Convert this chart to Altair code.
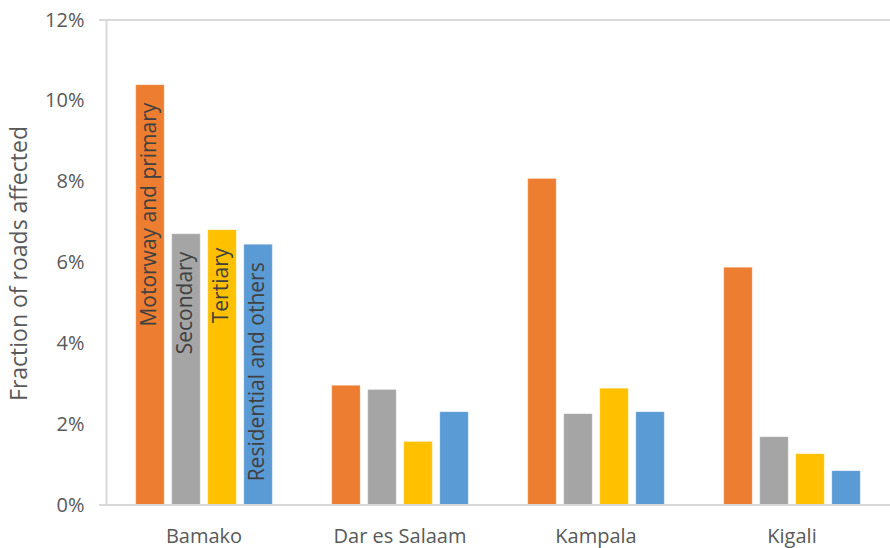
import altair as alt
import pandas as pd

# Share of road network affected, by city and road class
cities = ["Bamako", "Dar es Salaam", "Kampala", "Kigali"]
road_classes = ["Motorway and primary", "Secondary", "Tertiary", "Residential and others"]
motorway_primary = [0.104, 0.0296, 0.0808, 0.0588]
secondary = [0.0671, 0.0286, 0.0226, 0.0169]
tertiary = [0.0681, 0.0157, 0.0289, 0.0127]
residential_others = [0.0645, 0.0231, 0.0231, 0.0085]
colors = ["#ED7D31", "#A5A5A5", "#FFC000", "#5B9BD5"]
y_ticks = [0, 0.02, 0.04, 0.06, 0.08, 0.10, 0.12]

series = [motorway_primary, secondary, tertiary, residential_others]
rows = []
for cls, vals in zip(road_classes, series):
    for city, v in zip(cities, vals):
        rows.append({"city": city, "road_class": cls, "share": v})
df = pd.DataFrame(rows)

W, H = 784, 485
FONT = "Open Sans"
FS = 20
GRAY_TEXT = "#595959"
LINE = "#D9D9D9"

x_enc = alt.X(
    "city:N",
    sort=cities,
    scale=alt.Scale(paddingInner=0, paddingOuter=0),
    axis=alt.Axis(
        title=None, labelAngle=0, ticks=False, domain=False,
        labelFont=FONT, labelFontSize=FS, labelColor=GRAY_TEXT, labelPadding=21,
    ),
)
xoff_enc = alt.XOffset(
    "road_class:N",
    sort=road_classes,
    scale=alt.Scale(paddingInner=0.21, paddingOuter=0.825),
)
y_scale = alt.Scale(domain=[0, 0.12], nice=False)
y_enc = alt.Y(
    "share:Q",
    scale=y_scale,
    axis=alt.Axis(
        title="Fraction of roads affected", format=".0%", values=y_ticks,
        grid=False, ticks=False, domain=True, domainColor=LINE, domainWidth=2,
        labelFont=FONT, labelFontSize=FS, labelColor=GRAY_TEXT, labelPadding=22,
        titleFont=FONT, titleFontSize=23, titleColor=GRAY_TEXT, titleFontWeight="normal",
        titleAngle=-90, titleX=-87, titleY=243, titleBaseline="middle", titleAlign="center",
    ),
)

bars = alt.Chart(df).mark_bar(stroke="#FFFFFF", strokeOpacity=0.35, strokeWidth=0.8).encode(
    x=x_enc,
    xOffset=xoff_enc,
    y=y_enc,
    color=alt.Color(
        "road_class:N", sort=road_classes,
        scale=alt.Scale(domain=road_classes, range=colors), legend=None,
    ),
)

# Series names written inside the first group of bars
labels = alt.Chart(df[df["city"] == cities[0]]).mark_text(
    angle=270, align="right", baseline="middle", dx=-18,
    font=FONT, fontSize=21, color="#404040",
).encode(
    x=alt.X("city:N", sort=cities),
    xOffset=alt.XOffset("road_class:N", sort=road_classes),
    y=alt.Y("share:Q", scale=y_scale),
    text="road_class:N",
)

top_line = alt.Chart(pd.DataFrame({"v": [0.12, 0.0]})).mark_rule(
    color=LINE, strokeWidth=2
).encode(
    y=alt.Y("v:Q", scale=y_scale),
    x=alt.value(-7),
    x2=alt.value(W),
)

chart = (
    alt.layer(bars, labels, top_line)
    .properties(width=W, height=H, padding={"left": 106, "top": 20, "right": 0, "bottom": 43},
                autosize=alt.AutoSizeParams(type="none"))
    .configure_view(stroke=None)
    .configure(background="#FFFFFF")
)

chart.save("out.html", embed_options={"renderer": "svg", "actions": False})
